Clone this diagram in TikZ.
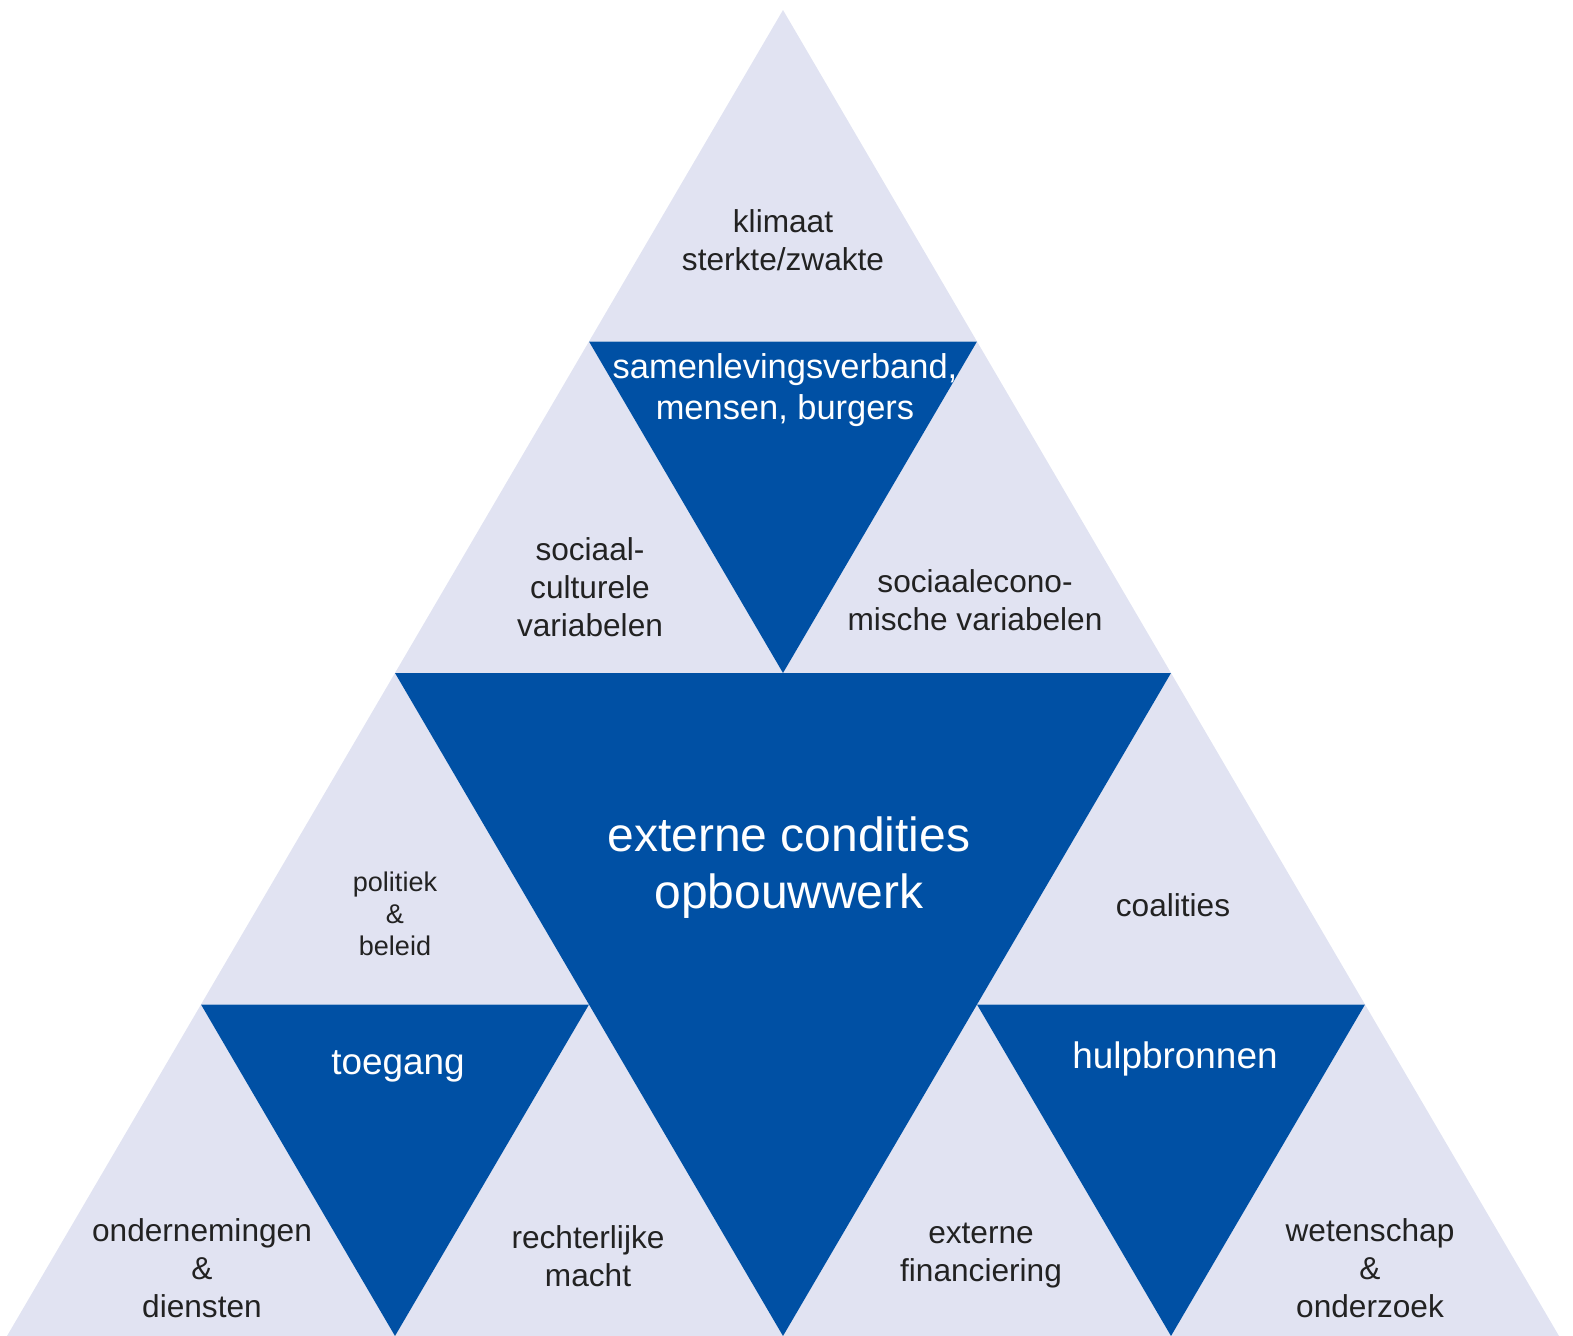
\documentclass[tikz,border=0pt]{standalone}
\usepackage{fontspec}
\setmainfont{Liberation Sans}
\usepackage{xcolor}
\definecolor{clight}{RGB}{225,227,242}
\definecolor{cblue}{RGB}{0,80,164}
\definecolor{ctext}{RGB}{34,34,34}

\begin{document}
\begin{tikzpicture}[x=0.02cm, y=-0.02cm,
    light/.style={fill=clight},
    dark/.style={fill=cblue},
    lbl/.style={text=ctext, align=center, inner sep=0pt,
                font=\fontsize{18}{21.6}\selectfont},
    wlbl/.style={text=white, align=center, inner sep=0pt},
  ]
  \useasboundingbox (0,0) rectangle (1573,1336);
  % corner points, row r, place k
  \foreach \r in {0,...,4} {
    \foreach \k in {0,...,\r} {
      \coordinate (p\r\k) at ({783+(\k-\r/2)*388}, {10+\r*331.5});
    }
  }
  % light triangles
  \fill[light] (p00) -- (p10) -- (p11) -- cycle;
  \fill[light] (p10) -- (p20) -- (p21) -- cycle;
  \fill[light] (p11) -- (p21) -- (p22) -- cycle;
  \fill[light] (p20) -- (p30) -- (p31) -- cycle;
  \fill[light] (p22) -- (p32) -- (p33) -- cycle;
  \fill[light] (p30) -- (p40) -- (p41) -- cycle;
  \fill[light] (p31) -- (p41) -- (p42) -- cycle;
  \fill[light] (p32) -- (p42) -- (p43) -- cycle;
  \fill[light] (p33) -- (p43) -- (p44) -- cycle;
  % blue triangles
  \fill[dark] (p10) -- (p11) -- (p21) -- cycle;
  \fill[dark] (p20) -- (p22) -- (p42) -- cycle;
  \fill[dark] (p30) -- (p31) -- (p41) -- cycle;
  \fill[dark] (p32) -- (p33) -- (p43) -- cycle;

  % texts
  \node[lbl] (klimaat) at (783,240) {klimaat\\sterkte/zwakte};
  \node[wlbl, font=\fontsize{19.6}{23.3}\selectfont] (burgers) at (785,390)
    {samenlevingsverband,\\mensen, burgers};
  \node[lbl] (cultuur) at (590,587) {sociaal-\\culturele\\variabelen};
  \node[lbl] (econ) at (975,600) {sociaalecono-\\mische variabelen};
  \node[wlbl, font=\fontsize{27.3}{32.4}\selectfont] (extern) at (789,868)
    {externe condities\\opbouwwerk};
  \node[lbl, font=\fontsize{15.4}{18.2}\selectfont] (politiek) at (395,914)
    {politiek\\\&\\beleid};
  \node[lbl] (coalities) at (1173,905) {coalities};
  \node[wlbl, font=\fontsize{21}{25}\selectfont] (toegang) at (398,1066) {toegang};
  \node[wlbl, font=\fontsize{21}{25}\selectfont] (hulp) at (1175,1059) {hulpbronnen};
  \node[lbl] (onderneming) at (202,1268) {ondernemingen\\\&\\diensten};
  \node[lbl] (recht) at (588,1256) {rechterlijke\\macht};
  \node[lbl] (financiering) at (981,1256) {externe\\financiering};
  \node[lbl] (wetenschap) at (1370,1268) {wetenschap\\\&\\onderzoek};
\end{tikzpicture}
\end{document}
